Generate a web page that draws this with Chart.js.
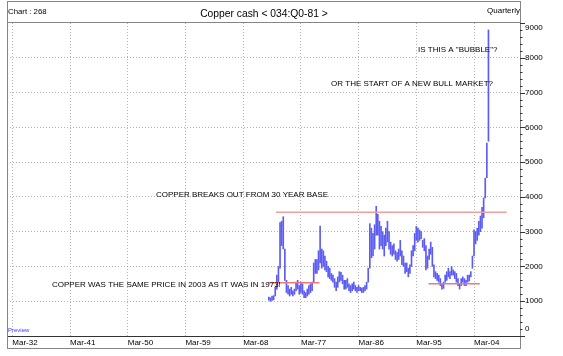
<!DOCTYPE html>
<html><head><meta charset="utf-8">
<script src="https://cdn.jsdelivr.net/npm/chart.js@4"></script>
<style>html,body{margin:0;padding:0;background:#fff;overflow:hidden}#c{display:block}</style>
</head><body>
<canvas id="c" width="563" height="356"></canvas>
<script>
// ---- data (quarterly high / low, USD per tonne), first bar = Q1 1972 ----
const firstYear = 1972;
const highs = [
 1120,1100,1150,1160, 1400,1750,2000,3260, 3300,3430,2500,1600,
 1450,1350,1400,1300, 1350,1550,1600,1450, 1550,1500,1300,1250,
 1350,1450,1500,1550, 2100,2200,2200,2450, 3160,2500,2450,2300,
 2150,2000,1950,1800, 1750,1650,1550,1700, 1850,1830,1750,1600,
 1600,1650,1500,1450, 1500,1550,1450,1400, 1450,1400,1380,1400,
 1450,1550,1950,3230, 3100,2950,3200,3730, 3500,3300,3150,3000,
 2900,3100,3300,3000, 2700,2600,2650,2450, 2400,2500,2750,2450,
 2300,2100,2100,1950, 2050,2450,2600,2950, 3150,3100,3050,3000,
 2750,2800,2600,2300, 2500,2700,2550,2050, 1850,1800,1750,1650,
 1500,1550,1750,1850, 1950,1850,2000,1900, 1850,1800,1650,1500,
 1650,1700,1650,1600, 1750,1750,1850,2300, 3050,3000,3100,3300,
 3450,3700,3970,4540, 5550,8800
];
const lows = [
 1030,1000,1020,1040, 1150,1350,1550,1950, 2600,2500,1600,1250,
 1200,1150,1200,1150, 1200,1300,1350,1200, 1250,1200,1100,1100,
 1150,1200,1250,1300, 1550,1800,1800,1900, 2100,1950,2000,1900,
 1850,1700,1650,1600, 1550,1400,1300,1400, 1550,1600,1500,1350,
 1350,1400,1300,1250, 1300,1350,1300,1250, 1300,1300,1250,1250,
 1300,1350,1550,1950, 2250,2300,2500,2900, 2900,2500,2600,2500,
 2300,2600,2700,2500, 2350,2300,2350,2200, 2150,2200,2300,2050,
 2000,1800,1850,1700, 1800,2000,2300,2450, 2750,2700,2750,2800,
 2550,2450,1900,1950, 2200,2350,2000,1700, 1650,1600,1550,1450,
 1350,1370,1550,1600, 1700,1650,1750,1750, 1650,1550,1450,1350,
 1450,1550,1450,1450, 1550,1580,1700,1950, 2300,2650,2750,2900,
 3000,3100,3400,3970, 4550,5600
];
const xTickYears  = [1932,1941,1950,1959,1968,1977,1986,1995,2004];
const xTickLabels = ['Mar-32','Mar-41','Mar-50','Mar-59','Mar-68','Mar-77','Mar-86','Mar-95','Mar-04'];
const yTickValues = [0,1000,2000,3000,4000,5000,6000,7000,8000,9000];
// reference lines drawn by the author
const baseLineX = [1973.1, 2009.1];  const baseLineY = [3560, 3560];
const line73X   = [1971.9, 1979.9];  const line73Y   = [1530, 1530];
const line03X   = [1996.9, 2004.9];  const line03Y   = [1500, 1500];

const FONT = "'Liberation Sans', Arial, sans-serif";

const framePlugin = {
  id: 'frame',
  beforeDraw(chart) {
    const c = chart.ctx;
    c.save(); c.fillStyle = '#fff'; c.fillRect(0, 0, chart.width, chart.height); c.restore();
  },
  afterDraw(chart) {
    const c = chart.ctx;
    const y = chart.scales.y;
    c.save();
    // frame
    c.strokeStyle = '#858585'; c.lineWidth = 1;
    c.strokeRect(7.5, 1.5, 513, 347);
    c.beginPath(); c.moveTo(7.5, 22.5); c.lineTo(520.5, 22.5); c.stroke();
    // header texts
    c.fillStyle = '#000';
    c.textBaseline = 'alphabetic';
    c.font = '7.8px ' + FONT; c.textAlign = 'left';
    c.fillText('Chart : 268', 8, 13.5);
    c.textAlign = 'right'; c.font = '8px ' + FONT;
    c.fillText('Quarterly', 520, 13);
    c.textAlign = 'center'; c.font = '10.3px ' + FONT;
    c.fillText('Copper cash < 034:Q0-81 >', 264, 17);
    // y labels
    c.font = '8px ' + FONT; c.textAlign = 'left'; c.textBaseline = 'middle';
    yTickValues.forEach(v => {
      let py = y.getPixelForValue(v);
      py = Math.min(Math.max(py, 28), 329);
      c.fillText(String(v), 525, py);
    });
    // minor / major ticks on right axis
    c.strokeStyle = '#333';
    for (let v = 0; v <= 9000; v += 200) {
      const py = Math.round(y.getPixelForValue(v)) + 0.5;
      const len = (v % 1000 === 0) ? 5 : 2.5;
      c.beginPath(); c.moveTo(520, py); c.lineTo(520 + len, py); c.stroke();
    }
    // annotations
    c.textBaseline = 'alphabetic'; c.font = '8px ' + FONT; c.fillStyle = '#000';
    c.textAlign = 'left';  c.fillText('IS THIS A "BUBBLE"?', 418, 52);
    c.textAlign = 'right'; c.fillText('OR THE START OF A NEW BULL MARKET?', 493, 86);
    c.textAlign = 'right'; c.fillText('COPPER BREAKS OUT FROM 30 YEAR BASE', 328, 197);
    c.textAlign = 'left';  c.fillText('COPPER WAS THE SAME PRICE IN 2003 AS IT WAS IN 1973!', 52, 287);
    c.fillStyle = '#3a3aff'; c.font = '6px ' + FONT;
    c.fillText('Preview', 8, 332);
    c.restore();
  }
};

const barData = highs.map((h, i) => ({ x: firstYear + i / 4, y: [lows[i], h] }));
const mkLine = (xs, ys) => xs.map((x, i) => ({ x: x, y: ys[i] }));
const refStyle = { type: 'line', borderColor: '#eba0a0', borderWidth: 1.5, pointRadius: 0, fill: false, order: 0 };

new Chart(document.getElementById('c'), {
  type: 'bar',
  data: {
    datasets: [
      { type: 'bar', data: barData, backgroundColor: '#5c5cf2', barThickness: 1, grouped: false, borderWidth: 0, order: 2 },
      Object.assign({ data: mkLine(baseLineX, baseLineY) }, refStyle),
      Object.assign({ data: mkLine(line73X, line73Y) }, refStyle, { borderColor: '#e97a7a' }),
      Object.assign({ data: mkLine(line03X, line03Y) }, refStyle, { borderColor: '#e97a7a' })
    ]
  },
  options: {
    responsive: false, animation: false, devicePixelRatio: 1,
    layout: { padding: { top: 23, left: 7, right: 0, bottom: 8 } },
    plugins: { legend: { display: false }, tooltip: { enabled: false } },
    scales: {
      x: {
        type: 'linear', position: 'bottom', min: 1931.17, max: 2011.17, offset: false,
        afterBuildTicks: s => { s.ticks = xTickYears.map(v => ({ value: v })); },
        afterFit: s => { s.height = 12; },
        ticks: {
          callback: v => { const i = xTickYears.indexOf(v); return i >= 0 ? xTickLabels[i] : ''; },
          align: 'start', maxRotation: 0, minRotation: 0, autoSkip: false, padding: 2,
          font: { family: FONT, size: 8 }, color: '#000'
        },
        grid: { color: '#b4b4b4', drawTicks: false, offset: false },
        border: { display: true, color: '#333', width: 1, dash: [1, 2] }
      },
      y: {
        position: 'right', min: 0, max: 9000,
        afterBuildTicks: s => { s.ticks = yTickValues.map(v => ({ value: v })); },
        afterFit: s => { s.width = 43; },
        ticks: { display: false },
        grid: {
          color: ctx => (ctx.tick && ctx.tick.value > 0 && ctx.tick.value < 9000) ? '#b4b4b4' : 'rgba(0,0,0,0)',
          drawTicks: false
        },
        border: { display: true, color: '#333', width: 1, dash: [1, 2] }
      }
    }
  },
  plugins: [framePlugin]
});
</script>
</body></html>
